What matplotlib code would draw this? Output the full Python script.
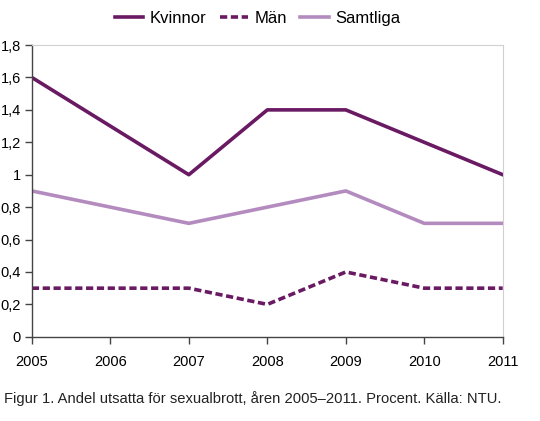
import numpy as np
import matplotlib
matplotlib.use("Agg")
from matplotlib import pyplot as plt

years = [2005, 2006, 2007, 2008, 2009, 2010, 2011]
# 2006 saknas i underlaget
kvinnor = [1.6, np.nan, 1.0, 1.4, 1.4, 1.2, 1.0]
man = [0.3, np.nan, 0.3, 0.2, 0.4, 0.3, 0.3]
samtliga = [0.9, np.nan, 0.7, 0.8, 0.9, 0.7, 0.7]
yticks = [0, 0.2, 0.4, 0.6, 0.8, 1.0, 1.2, 1.4, 1.6, 1.8]
ylabels = ["0", "0,2", "0,4", "0,6", "0,8", "1", "1,2", "1,4", "1,6", "1,8"]

plt.rcParams["font.family"] = ["Liberation Sans", "DejaVu Sans"]

fig = plt.figure(figsize=(5.4, 4.21), dpi=100)
ax = fig.add_axes([0.059, 0.2, 0.872, 0.693])

x = np.arange(len(years))


def draw(vals, **kw):
    v = np.array(vals, dtype=float)
    ok = ~np.isnan(v)
    return ax.plot(x[ok], v[ok], **kw)[0]


dark = "#6a1a63"
light = "#b48bbf"
l1 = draw(kvinnor, color=dark, lw=2.6, label="Kvinnor")
l2 = draw(man, color=dark, lw=2.6, ls=(0, (2.0, 1.0)), label="Män")
l3 = draw(samtliga, color=light, lw=2.6, label="Samtliga")

ax.set_xlim(0, len(years) - 1)
ax.set_ylim(0, 1.8)
ax.set_xticks(x)
ax.set_xticklabels([str(y) for y in years])
ax.set_yticks(yticks)
ax.set_yticklabels(ylabels)
ax.tick_params(axis="both", labelsize=10.5, color="#444444", length=5, width=1)
ax.tick_params(axis="x", pad=8)
ax.tick_params(axis="y", pad=3)

for s in ["top", "right"]:
    ax.spines[s].set_color("#d0d0d0")
    ax.spines[s].set_linewidth(0.8)
for s in ["left", "bottom"]:
    ax.spines[s].set_color("#444444")
    ax.spines[s].set_linewidth(1)

fig.legend(handles=[l1, l2, l3], loc="upper center", bbox_to_anchor=(0.477, 1.01),
           ncol=3, frameon=False, fontsize=12, handlelength=1.7,
           columnspacing=0.8, handletextpad=0.4)

fig.text(0.008, 0.043, "Figur 1. Andel utsatta för sexualbrott, åren 2005–2011. Procent. Källa: NTU.",
         fontsize=10.6, color="#222222")

fig.savefig("out.png", dpi=100)
